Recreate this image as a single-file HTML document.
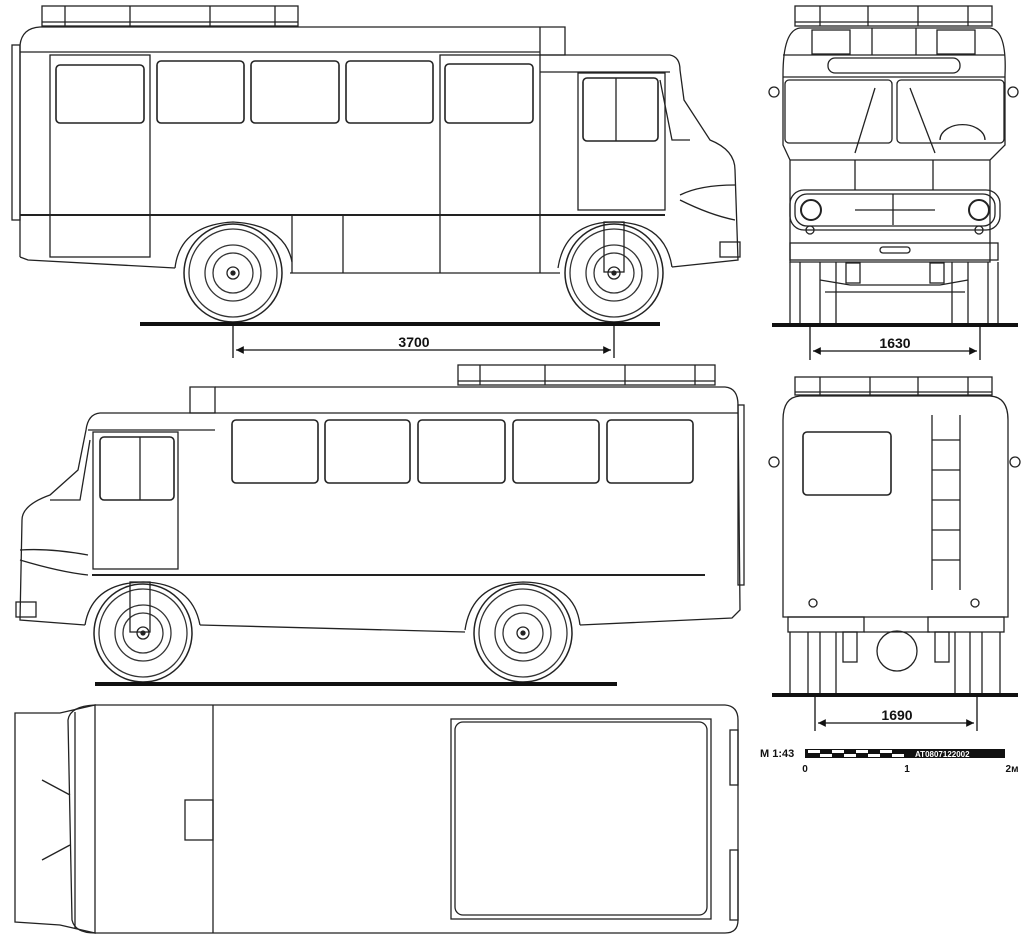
<!DOCTYPE html>
<html><head><meta charset="utf-8"><style>
body{margin:0;background:#fff}
svg{display:block}
text{font-family:"Liberation Sans",sans-serif;font-weight:bold;fill:#111}
</style></head><body>
<svg width="1024" height="946" viewBox="0 0 1024 946" xmlns="http://www.w3.org/2000/svg">
<defs>
<marker id="a" viewBox="0 0 10 10" refX="10" refY="5" markerWidth="8" markerHeight="6" orient="auto-start-reverse"><path d="M0,0L10,5L0,10z" fill="#111"/></marker>
<g id="wheel">
<circle r="49" fill="#fff" stroke="#222" stroke-width="1.5"/>
<circle r="44" fill="none" stroke="#333"/>
<circle r="28" fill="none" stroke="#333"/>
<circle r="20" fill="none" stroke="#333"/>
<circle r="6" fill="none" stroke="#222"/>
<circle r="2" fill="#222"/>
</g>
</defs>
<g fill="none" stroke="#222" stroke-width="1.3">
<!-- ===== SIDE VIEW 1 ===== -->
<rect x="42" y="6" width="256" height="20"/>
<line x1="42" y1="22" x2="298" y2="22"/>
<line x1="65" y1="6" x2="65" y2="26"/><line x1="130" y1="6" x2="130" y2="26"/><line x1="210" y1="6" x2="210" y2="26"/><line x1="275" y1="6" x2="275" y2="26"/>
<path d="M20,257 L20,45 Q22,28 40,27 L540,27 L540,55 L565,55 L565,27 L540,27"/>
<path d="M540,55 L670,55 Q680,57 680,70 L684,100 L710,140 Q735,150 735,170 L738,260 L672,267"/>
<line x1="20" y1="52" x2="540" y2="52"/>
<line x1="540" y1="72" x2="670" y2="72"/>
<path d="M20,257 L28,260 L175,268"/><path d="M290,273 L560,273"/>
<line x1="20" y1="215" x2="665" y2="215" stroke-width="2"/>
<rect x="50" y="55" width="100" height="202"/>
<rect x="440" y="55" width="100" height="160"/>
<rect x="578" y="73" width="87" height="137"/>
<line x1="292" y1="215" x2="292" y2="273"/><line x1="343" y1="215" x2="343" y2="273"/><line x1="440" y1="215" x2="440" y2="273"/><line x1="540" y1="215" x2="540" y2="273"/>
<g stroke-width="1.6">
<rect x="56" y="65" width="88" height="58" rx="4"/><rect x="157" y="61" width="87" height="62" rx="4"/><rect x="251" y="61" width="88" height="62" rx="4"/><rect x="346" y="61" width="87" height="62" rx="4"/><rect x="445" y="64" width="88" height="59" rx="4"/>
<rect x="583" y="78" width="75" height="63" rx="4"/>
</g>
<line x1="616" y1="78" x2="616" y2="141"/>
<path d="M660,80 L672,140 L690,140"/>
<path d="M680,195 Q700,185 735,185"/><path d="M680,200 Q710,215 735,220"/>
<rect x="720" y="242" width="20" height="15"/>
<rect x="12" y="45" width="8" height="175"/>
<path d="M175,268 Q180,225 233,222 Q285,225 292,262"/>
<path d="M558,268 Q565,222 614,222 Q665,222 672,267"/>
<use href="#wheel" x="233" y="273"/><use href="#wheel" x="614" y="273"/>
<rect x="604" y="222" width="20" height="50"/>
<!-- ===== SIDE VIEW 2 ===== -->
<rect x="458" y="365" width="257" height="20"/>
<line x1="458" y1="381" x2="715" y2="381"/>
<line x1="480" y1="365" x2="480" y2="385"/><line x1="545" y1="365" x2="545" y2="385"/><line x1="625" y1="365" x2="625" y2="385"/><line x1="695" y1="365" x2="695" y2="385"/>
<path d="M215,387 L725,387 Q738,388 738,405 L740,610 L732,618 L580,625"/>
<path d="M190,387 L215,387 L215,413 L190,413 Z"/>
<path d="M215,413 L100,413 Q88,414 86,430 L78,470 L50,495 Q22,505 22,520 L20,620 L85,625"/>
<line x1="88" y1="430" x2="215" y2="430"/>
<line x1="215" y1="413" x2="738" y2="413"/>
<path d="M200,625 L465,632"/>
<line x1="92" y1="575" x2="705" y2="575" stroke-width="2"/>
<rect x="93" y="432" width="85" height="137"/>
<g stroke-width="1.6">
<rect x="232" y="420" width="86" height="63" rx="4"/><rect x="325" y="420" width="85" height="63" rx="4"/><rect x="418" y="420" width="87" height="63" rx="4"/><rect x="513" y="420" width="86" height="63" rx="4"/><rect x="607" y="420" width="86" height="63" rx="4"/>
<rect x="100" y="437" width="74" height="63" rx="4"/>
</g>
<line x1="140" y1="437" x2="140" y2="500"/>
<path d="M90,440 L80,500 L50,500"/>
<path d="M20,550 Q50,548 88,555"/><path d="M20,560 Q60,572 88,575"/>
<rect x="16" y="602" width="20" height="15"/>
<rect x="738" y="405" width="6" height="180"/>
<path d="M85,625 Q92,583 143,582 Q192,583 200,625"/>
<path d="M465,630 Q472,583 523,582 Q575,583 580,625"/>
<use href="#wheel" x="143" y="633"/><use href="#wheel" x="523" y="633"/>
<rect x="130" y="582" width="20" height="50"/>
<!-- ===== TOP VIEW ===== -->
<path d="M15,713 L60,713 L95,705 L95,933 L60,925 L15,922 Z"/>
<path d="M95,705 L725,705 Q738,706 738,720 L738,920 Q738,933 725,933 L95,933 Q75,933 72,920 L68,720 Q70,706 95,705 Z"/>
<line x1="75" y1="712" x2="75" y2="928"/>
<line x1="213" y1="705" x2="213" y2="933"/>
<rect x="185" y="800" width="28" height="40"/>
<rect x="451" y="719" width="260" height="200"/>
<rect x="455" y="722" width="252" height="193" rx="8"/>
<line x1="42" y1="780" x2="70" y2="795"/><line x1="42" y1="860" x2="70" y2="845"/>
<rect x="730" y="730" width="8" height="55"/><rect x="730" y="850" width="8" height="70"/>
<!-- ===== FRONT VIEW ===== -->
<rect x="795" y="6" width="197" height="20"/>
<line x1="795" y1="22" x2="992" y2="22"/>
<line x1="820" y1="6" x2="820" y2="26"/><line x1="868" y1="6" x2="868" y2="26"/><line x1="918" y1="6" x2="918" y2="26"/><line x1="968" y1="6" x2="968" y2="26"/>
<path d="M783,75 Q783,30 800,28 L990,28 Q1007,30 1005,75 L1005,145 L990,160 L990,262 L790,262 L790,160 L783,145 Z"/>
<rect x="812" y="30" width="38" height="24"/><rect x="937" y="30" width="38" height="24"/>
<line x1="872" y1="28" x2="872" y2="55"/><line x1="916" y1="28" x2="916" y2="55"/>
<path d="M783,55 L1005,55"/>
<rect x="828" y="58" width="132" height="15" rx="7"/>
<line x1="783" y1="77" x2="1005" y2="77"/>
<rect x="785" y="80" width="107" height="63" rx="4"/><rect x="897" y="80" width="107" height="63" rx="4"/>
<line x1="875" y1="88" x2="855" y2="153"/><line x1="910" y1="88" x2="935" y2="153"/>
<path d="M940,140 A22,15 0 0 1 985,140"/>
<line x1="855" y1="160" x2="855" y2="190"/><line x1="933" y1="160" x2="933" y2="190"/>
<line x1="790" y1="160" x2="990" y2="160"/>
<rect x="790" y="190" width="210" height="40" rx="14"/>
<rect x="795" y="194" width="200" height="32" rx="12"/>
<circle cx="811" cy="210" r="10" stroke-width="2"/><circle cx="979" cy="210" r="10" stroke-width="2"/>
<circle cx="810" cy="230" r="4"/><circle cx="979" cy="230" r="4"/>
<line x1="893" y1="194" x2="893" y2="225"/><line x1="855" y1="210" x2="935" y2="210"/>
<rect x="790" y="243" width="208" height="17"/>
<rect x="880" y="247" width="30" height="6" rx="3"/>
<rect x="790" y="77" width="0" height="0"/>
<circle cx="774" cy="92" r="5"/><circle cx="1013" cy="92" r="5"/>
<line x1="790" y1="262" x2="790" y2="325"/><line x1="800" y1="262" x2="800" y2="325"/><line x1="820" y1="262" x2="820" y2="325"/><line x1="836" y1="262" x2="836" y2="325"/>
<line x1="952" y1="262" x2="952" y2="325"/><line x1="968" y1="262" x2="968" y2="325"/><line x1="988" y1="262" x2="988" y2="325"/><line x1="998" y1="262" x2="998" y2="325"/>
<path d="M820,280 L850,285 L940,285 L968,280"/><path d="M825,292 L965,292"/>
<rect x="846" y="263" width="14" height="20"/><rect x="930" y="263" width="14" height="20"/>
<!-- ===== REAR VIEW ===== -->
<rect x="795" y="377" width="197" height="18"/>
<line x1="795" y1="392" x2="992" y2="392"/>
<line x1="820" y1="377" x2="820" y2="395"/><line x1="870" y1="377" x2="870" y2="395"/><line x1="918" y1="377" x2="918" y2="395"/><line x1="968" y1="377" x2="968" y2="395"/>
<path d="M783,420 Q783,397 800,396 L990,396 Q1008,397 1008,420 L1008,617 L783,617 Z"/>
<rect x="803" y="432" width="88" height="63" rx="4" stroke-width="1.6"/>
<line x1="932" y1="415" x2="932" y2="590"/><line x1="960" y1="415" x2="960" y2="590"/>
<line x1="932" y1="440" x2="960" y2="440"/><line x1="932" y1="470" x2="960" y2="470"/><line x1="932" y1="500" x2="960" y2="500"/><line x1="932" y1="530" x2="960" y2="530"/><line x1="932" y1="560" x2="960" y2="560"/>
<circle cx="774" cy="462" r="5"/><circle cx="1015" cy="462" r="5"/>
<circle cx="813" cy="603" r="4"/><circle cx="975" cy="603" r="4"/>
<rect x="788" y="617" width="76" height="15"/><rect x="928" y="617" width="76" height="15"/>
<path d="M864,632 L930,632"/>
<circle cx="897" cy="651" r="20"/>
<rect x="843" y="632" width="14" height="30"/><rect x="935" y="632" width="14" height="30"/>
<line x1="790" y1="632" x2="790" y2="695"/><line x1="808" y1="632" x2="808" y2="695"/><line x1="820" y1="632" x2="820" y2="695"/><line x1="836" y1="632" x2="836" y2="695"/>
<line x1="955" y1="632" x2="955" y2="695"/><line x1="970" y1="632" x2="970" y2="695"/><line x1="982" y1="632" x2="982" y2="695"/><line x1="1000" y1="632" x2="1000" y2="695"/>
</g>
<!-- grounds -->
<g stroke="#111" stroke-width="4">
<line x1="140" y1="324" x2="660" y2="324"/>
<line x1="95" y1="684" x2="617" y2="684"/>
<line x1="772" y1="325" x2="1018" y2="325"/>
<line x1="772" y1="695" x2="1018" y2="695"/>
</g>
<!-- dimensions -->
<g stroke="#111" stroke-width="1.3">
<line x1="233" y1="324" x2="233" y2="358"/><line x1="614" y1="324" x2="614" y2="358"/>
<line x1="236" y1="350" x2="611" y2="350" marker-start="url(#a)" marker-end="url(#a)"/>
<line x1="810" y1="325" x2="810" y2="360"/><line x1="980" y1="325" x2="980" y2="360"/>
<line x1="813" y1="351" x2="977" y2="351" marker-start="url(#a)" marker-end="url(#a)"/>
<line x1="815" y1="695" x2="815" y2="731"/><line x1="977" y1="695" x2="977" y2="731"/>
<line x1="818" y1="723" x2="974" y2="723" marker-start="url(#a)" marker-end="url(#a)"/>
</g>
<text x="414" y="347" font-size="14" text-anchor="middle">3700</text>
<text x="895" y="348" font-size="14" text-anchor="middle">1630</text>
<text x="897" y="720" font-size="14" text-anchor="middle">1690</text>
<!-- scale bar -->
<text x="760" y="757" font-size="11">M 1:43</text>
<rect x="805" y="749" width="200" height="9" fill="#111"/>
<g fill="#fff">
<rect x="808" y="750" width="12" height="3"/><rect x="832" y="750" width="12" height="3"/><rect x="856" y="750" width="12" height="3"/><rect x="880" y="750" width="12" height="3"/>
<rect x="820" y="754" width="12" height="3"/><rect x="844" y="754" width="12" height="3"/><rect x="868" y="754" width="12" height="3"/><rect x="892" y="754" width="12" height="3"/>
</g>
<text x="915" y="757" font-size="8" style="fill:#fff">AT0807122002</text>
<text x="805" y="772" font-size="10" text-anchor="middle">0</text>
<text x="907" y="772" font-size="10" text-anchor="middle">1</text>
<text x="1012" y="772" font-size="10" text-anchor="middle">2м</text>
</svg>
</body></html>
